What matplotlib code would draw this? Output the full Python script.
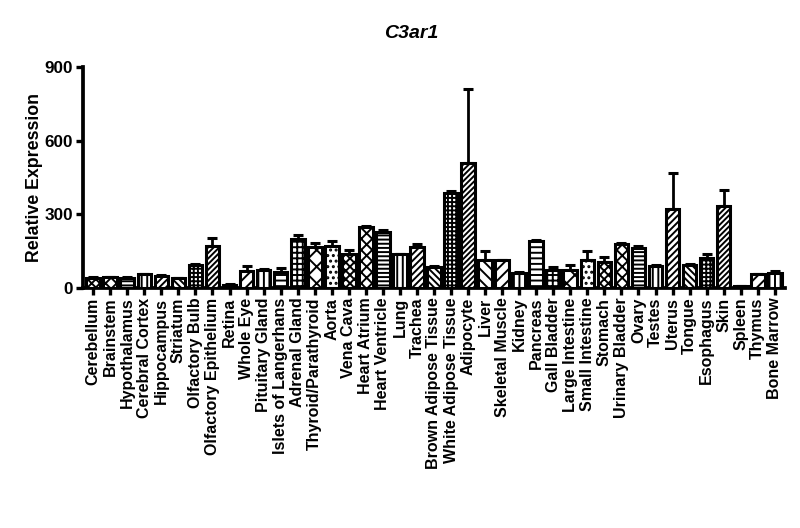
import numpy as np
import matplotlib
matplotlib.use("Agg")
import matplotlib.pyplot as plt

plt.rcParams["font.family"] = ["Liberation Sans", "DejaVu Sans"]
plt.rcParams["font.weight"] = "bold"
plt.rcParams["hatch.linewidth"] = 1.4

tissues = ["Cerebellum", "Brainstem", "Hypothalamus", "Cerebral Cortex", "Hippocampus",
           "Striatum", "Olfactory Bulb", "Olfactory Epithelium", "Retina", "Whole Eye",
           "Pituitary Gland", "Islets of Langerhans", "Adrenal Gland", "Thyroid/Parathyroid",
           "Aorta", "Vena Cava", "Heart Atrium", "Heart Ventricle", "Lung", "Trachea",
           "Brown Adipose Tissue", "White Adipose Tissue", "Adipocyte", "Liver",
           "Skeletal Muscle", "Kidney", "Pancreas", "Gall Bladder", "Large Intestine",
           "Small Intestine", "Stomach", "Urinary Bladder", "Ovary", "Testes", "Uterus",
           "Tongue", "Esophagus", "Skin", "Spleen", "Thymus", "Bone Marrow"]

means = [40, 43, 42, 55, 50, 40, 92, 172, 14, 68, 75, 65, 200, 165, 172, 140, 248,
         228, 138, 165, 85, 385, 510, 115, 112, 60, 190, 72, 75, 115, 105, 178, 163,
         88, 322, 95, 122, 332, 8, 55, 60]

err_up = [3, 3, 4, 2, 2, 2, 5, 32, 2, 22, 3, 15, 17, 18, 20, 15, 5, 7, 2, 14, 5, 10,
          300, 37, 2, 5, 6, 13, 20, 37, 22, 4, 10, 4, 148, 3, 16, 67, 2, 4, 8]

# the hatch cycle repeats every 15 bars
patterns = ["xxxx", "xxx", "----", "|||", "/////", "\\\\\\\\\\", "++++", "//////",
            "\\\\\\", "///", "|||", "---", "+++", "xx", "..."]

x = np.arange(len(tissues))

fig = plt.figure(figsize=(8, 5.28), dpi=100)
ax = fig.add_axes([83 / 800, 1 - 288 / 528, (785 - 83) / 800, (288 - 67) / 528])

bars = ax.bar(x, means, width=0.8, color="white", edgecolor="black", linewidth=2.2,
              zorder=3)
for i, b in enumerate(bars):
    b.set_hatch(patterns[i % len(patterns)])

ax.errorbar(x, means, yerr=[np.zeros(len(means)), err_up], fmt="none",
            ecolor="black", elinewidth=2, capsize=3.5, capthick=2.2, zorder=2)

ax.set_xlim(-0.6, len(tissues) - 0.4)
ax.set_ylim(0, 900)
ax.set_yticks([0, 300, 600, 900])
ax.set_xticks(x)
ax.set_xticklabels(tissues, rotation=90, fontsize=11.5, fontweight="bold")
ax.tick_params(axis="y", labelsize=12.3, width=2.4, length=5, pad=2)
ax.tick_params(axis="x", width=2.4, length=5, pad=2)
for t in ax.get_yticklabels():
    t.set_fontweight("bold")

ax.spines["top"].set_visible(False)
ax.spines["right"].set_visible(False)
ax.spines["left"].set_linewidth(2.7)
ax.spines["bottom"].set_linewidth(2.7)

ax.set_ylabel("Relative Expression", fontsize=12.8, fontweight="bold", labelpad=1)
fig.text(411 / 800, 1 - 33 / 528, "C3ar1", fontsize=14, fontweight="bold",
         fontstyle="italic", ha="center", va="center")

fig.savefig("out.png", dpi=100)
